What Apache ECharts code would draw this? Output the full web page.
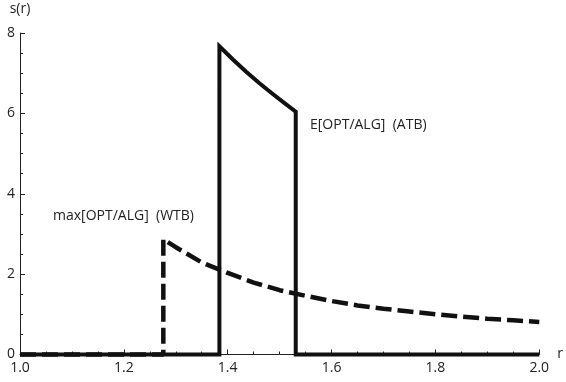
<!DOCTYPE html>
<html>
<head>
<meta charset="utf-8">
<script src="https://cdn.jsdelivr.net/npm/echarts@6/dist/echarts.min.js"></script>
<style>
  html, body { margin: 0; padding: 0; background: #fff; }
  #chart { width: 566px; height: 382px; }
</style>
</head>
<body>
<div id="chart"></div>
<script>
  // E[OPT/ALG] (ATB) - solid curve, [r, s(r)]
  const atbR = [1.0, 1.384, 1.384, 1.41, 1.435, 1.46, 1.485, 1.51, 1.531, 1.531, 2.0];
  const atbS = [0, 0, 7.67, 7.34, 7.04, 6.76, 6.5, 6.25, 6.04, 0, 0];
  // max[OPT/ALG] (WTB) - dashed curve
  const wtbR = [1.0, 1.276, 1.276, 1.3, 1.35, 1.4, 1.45, 1.5, 1.55, 1.6, 1.65, 1.7, 1.75, 1.8, 1.85, 1.9, 1.95, 2.0];
  const wtbS = [0, 0, 2.87, 2.67, 2.29, 2.03, 1.79, 1.6, 1.46, 1.33, 1.22, 1.14, 1.07, 1.0, 0.94, 0.89, 0.85, 0.81];
  const xTicks = [1.0, 1.2, 1.4, 1.6, 1.8, 2.0];
  const yTicks = [0, 2, 4, 6, 8];

  const font = '"Open Sans", "Noto Sans", sans-serif';
  const pairs = (xs, ys) => xs.map((x, i) => [x, ys[i]]);

  const chart = echarts.init(document.getElementById('chart'));
  chart.setOption({
    animation: false,
    grid: { left: 20, right: 25, top: 33, bottom: 27.5 },
    xAxis: {
      type: 'value',
      min: xTicks[0],
      max: xTicks[xTicks.length - 1],
      interval: 0.2,
      name: 'r',
      nameLocation: 'end',
      nameGap: 18,
      nameTextStyle: { color: '#222', fontSize: 14, fontFamily: font, align: 'left', verticalAlign: 'middle', padding: [14, 0, 0, 0] },
      axisLine: { show: true, lineStyle: { color: '#222', width: 1 } },
      axisTick: { show: true, inside: true, length: 5, lineStyle: { color: '#222', width: 1 } },
      minorTick: { show: true, splitNumber: 4, length: 3, lineStyle: { color: '#222', width: 1 } },
      splitLine: { show: false },
      axisLabel: { color: '#222', fontSize: 14, fontFamily: font, margin: 7, formatter: v => v.toFixed(1) }
    },
    yAxis: {
      type: 'value',
      min: yTicks[0],
      max: yTicks[yTicks.length - 1],
      interval: 2,
      name: 's(r)',
      nameLocation: 'end',
      nameGap: 24,
      nameTextStyle: { color: '#222', fontSize: 14, fontFamily: font, align: 'center', verticalAlign: 'middle' },
      axisLine: { show: true, lineStyle: { color: '#222', width: 1 } },
      axisTick: { show: true, inside: true, length: 5, lineStyle: { color: '#222', width: 1 } },
      minorTick: { show: true, splitNumber: 4, length: 3, lineStyle: { color: '#222', width: 1 } },
      splitLine: { show: false },
      axisLabel: { color: '#222', fontSize: 14, fontFamily: font, margin: 5 }
    },
    series: [{
      name: 'max[OPT/ALG]  (WTB)',
      type: 'line',
      data: pairs(wtbR, wtbS),
      showSymbol: false,
      clip: false,
      lineStyle: { color: '#111', width: 4.5, type: [16, 6], cap: 'butt' }
    }, {
      name: 'E[OPT/ALG]  (ATB)',
      type: 'line',
      data: pairs(atbR, atbS),
      showSymbol: false,
      clip: false,
      lineStyle: { color: '#111', width: 4, join: 'miter' }
    }],
    graphic: [{
      type: 'text',
      left: 310,
      top: 118,
      style: { text: 'E[OPT/ALG]  (ATB)', fill: '#222', font: '14px ' + font }
    }, {
      type: 'text',
      left: 53,
      top: 209,
      style: { text: 'max[OPT/ALG]  (WTB)', fill: '#222', font: '14px ' + font }
    }]
  });
</script>
</body>
</html>
